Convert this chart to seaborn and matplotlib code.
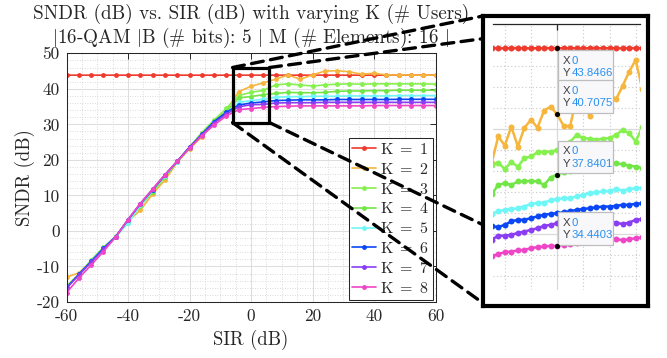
import matplotlib
matplotlib.use("Agg")
import matplotlib.pyplot as plt
import pandas as pd
import seaborn as sns
from matplotlib.patches import Rectangle, ConnectionPatch
from matplotlib.lines import Line2D
from matplotlib.ticker import MultipleLocator, FuncFormatter

# ---------------- data ----------------
sir_db = [-60, -56, -52, -48, -44, -40, -36, -32, -28, -24, -20, -16, -12, -8, -4,
          0, 4, 8, 12, 16, 20, 24, 28, 32, 36, 40, 44, 48, 52, 56, 60]
users = [1, 2, 3, 4, 5, 6, 7, 8]

sndr_k1 = [43.85, 43.85, 43.84, 43.85, 43.85, 43.85, 43.84, 43.85, 43.85, 43.85, 43.85,
           43.84, 43.85, 43.85, 43.85, 43.8466, 43.85, 43.85, 43.85, 43.84, 43.85, 43.85,
           43.85, 43.85, 43.84, 43.85, 43.85, 43.85, 43.85, 43.85, 43.85]
sndr_k2 = [-13.0, -11.8, -8.6, -5.0, -1.6, 2.8, 5.8, 10.4, 14.3, 19.3, 23.1, 26.5, 30.3,
           34.0, 39.22, 40.7075, 41.7, 42.7, 43.9, 42.7, 43.9, 45.0, 45.1, 44.8, 44.1,
           44.4, 43.9, 43.9, 43.9, 43.8, 43.9]
sndr_k3 = [-15.5, -12.2, -8.2, -4.6, -1.6, 2.3, 7.3, 11.2, 15.3, 19.6, 23.6, 27.7, 31.2,
           34.5, 38.10, 39.01, 39.57, 41.1, 41.4, 41.1, 40.8, 41.1, 41.3, 41.4, 41.3,
           41.4, 41.4, 41.4, 41.4, 41.4, 41.3]
sndr_k4 = [-15.7, -12.4, -8.4, -4.8, -1.5, 2.6, 7.0, 11.0, 15.2, 19.4, 23.4, 27.4, 30.9,
           33.6, 37.43, 37.8401, 38.35, 38.7, 39.0, 38.9, 38.9, 39.0, 39.3, 39.4, 39.4,
           39.5, 39.5, 39.6, 39.6, 39.6, 39.6]
sndr_k5 = [-16.0, -12.4, -8.5, -4.9, -1.6, 2.3, 7.2, 11.4, 15.5, 19.5, 23.5, 27.1, 30.6,
           33.3, 36.16, 36.67, 37.07, 37.6, 37.8, 37.8, 37.9, 37.9, 37.9, 38.0, 38.0,
           38.0, 38.0, 38.1, 38.1, 38.1, 38.1]
sndr_k6 = [-16.0, -12.2, -8.6, -4.9, -1.6, 3.1, 7.6, 11.6, 15.7, 19.6, 23.6, 27.2, 30.8,
           33.4, 35.45, 36.0, 36.32, 36.7, 36.8, 36.9, 36.9, 36.9, 37.0, 37.0, 37.0,
           37.0, 37.0, 37.05, 37.05, 37.05, 37.05]
sndr_k7 = [-16.1, -12.4, -8.8, -5.2, -1.6, 3.2, 7.7, 11.7, 15.8, 19.6, 23.5, 27.0, 30.4,
           32.9, 34.93, 35.53, 35.61, 36.0, 36.1, 36.1, 36.1, 36.2, 36.2, 36.2, 36.2,
           36.2, 36.2, 36.2, 36.2, 36.2, 36.2]
sndr_k8 = [-17.4, -13.3, -9.6, -5.8, -1.7, 3.2, 7.7, 11.8, 15.8, 19.6, 23.3, 26.8, 29.8,
           32.4, 34.14, 34.4403, 34.77, 35.0, 35.1, 35.2, 35.2, 35.2, 35.2, 35.2, 35.2,
           35.3, 35.3, 35.3, 35.3, 35.3, 35.3]

# finely sampled sweep around SIR = 0 dB (magnified view)
zoom_sir_db = [-5.0, -4.5, -4.0, -3.5, -3.0, -2.5, -2.0, -1.5, -1.0, -0.5, 0.0, 0.5,
               1.0, 1.5, 2.0, 2.5, 3.0, 3.5, 4.0, 4.5, 5.0, 5.5, 6.0, 6.5]
zoom_k1 = [43.85, 43.85, 43.84, 43.85, 43.85, 43.85, 43.84, 43.85, 43.85, 43.85, 43.8466,
           43.85, 43.85, 43.85, 43.84, 43.85, 43.85, 43.85, 43.85, 43.85, 43.84, 43.85,
           43.85, 43.85]
zoom_k2 = [38.4, 39.65, 39.22, 40.12, 39.17, 40.07, 40.44, 40.07, 40.88, 41.07, 40.7075,
           40.15, 40.15, 41.6, 41.2, 40.63, 41.5, 41.1, 41.7, 41.42, 42.05, 42.73, 43.29,
           41.9]
zoom_k3 = [38.3, 38.41, 38.10, 38.43, 38.22, 38.62, 38.70, 38.90, 38.93, 38.93, 39.01,
           39.2, 39.4, 39.73, 39.57, 39.55, 39.5, 39.55, 39.57, 39.73, 39.96, 39.81, 39.41,
           40.1]
zoom_k4 = [36.9, 37.35, 37.43, 37.35, 37.51, 37.51, 37.54, 37.51, 37.35, 37.7, 37.8401,
           37.95, 38.0, 38.1, 38.15, 38.2, 38.25, 38.3, 38.35, 38.38, 38.33, 38.27, 38.22,
           38.17]
zoom_k5 = [35.98, 36.09, 36.16, 36.20, 36.24, 36.32, 36.45, 36.48, 36.51, 36.61, 36.67,
           36.72, 36.72, 36.80, 36.88, 36.96, 36.99, 37.04, 37.07, 37.15, 37.08, 37.15,
           37.19, 37.2]
zoom_k6 = [35.38, 35.34, 35.45, 35.61, 35.69, 35.69, 35.77, 35.85, 35.93, 35.97, 36.0,
           36.05, 36.1, 36.16, 36.2, 36.24, 36.28, 36.32, 36.32, 36.35, 36.40, 36.40,
           36.45, 36.47]
zoom_k7 = [34.75, 34.93, 34.93, 34.98, 35.06, 35.13, 35.21, 35.29, 35.40, 35.45, 35.53,
           35.55, 35.57, 35.6, 35.6, 35.58, 35.6, 35.62, 35.61, 35.56, 35.48, 35.56, 35.69,
           35.72]
zoom_k8 = [33.95, 34.07, 34.14, 34.18, 34.23, 34.26, 34.34, 34.39, 34.42, 34.45, 34.4403,
           34.50, 34.55, 34.58, 34.62, 34.66, 34.70, 34.74, 34.77, 34.77, 34.72, 34.76,
           34.82, 34.85]

# data tips shown at SIR = 0 dB: (user count, tip box above the point?)
tip_users = [1, 2, 4, 8]
tip_above = [False, True, True, True]

colors = ["#ef3b2d", "#f6b53c", "#86f04f", "#71e646",
          "#6ff6f6", "#0b47f5", "#8b3df4", "#ee46c6"]

main_series = [sndr_k1, sndr_k2, sndr_k3, sndr_k4, sndr_k5, sndr_k6, sndr_k7, sndr_k8]
zoom_series = [zoom_k1, zoom_k2, zoom_k3, zoom_k4, zoom_k5, zoom_k6, zoom_k7, zoom_k8]


def long_table(xs, series):
    rows = []
    for k, ys in zip(users, series):
        for x, y in zip(xs, ys):
            rows.append({"SIR": x, "SNDR": y, "K": f"K = {k}"})
    return pd.DataFrame(rows)


df_main = long_table(sir_db, main_series)
df_zoom = long_table(zoom_sir_db, zoom_series)

# ---------------- style ----------------
sns.set_theme(style="white")
plt.rcParams.update({
    "mathtext.fontset": "cm",
    "axes.unicode_minus": False,
    "axes.edgecolor": "#262626",
    "axes.linewidth": 0.75,
    "xtick.color": "#262626",
    "ytick.color": "#262626",
    "text.color": "#262626",
    "axes.labelcolor": "#262626",
})
plt.rcParams["font.family"] = ["cmr10", "DejaVu Serif"]

W, H = 667, 358
fig = plt.figure(figsize=(W / 100, H / 100), dpi=100)
ax = fig.add_axes([66.5 / W, 1 - 302 / H, 369 / W, 248.7 / H])

sns.lineplot(data=df_main, x="SIR", y="SNDR", hue="K", palette=colors,
             marker="o", markersize=3.5, markeredgewidth=0, linewidth=1.2,
             estimator=None, errorbar=None, sort=False, legend=False, ax=ax)

ax.set_xlim(-60, 60)
ax.set_ylim(-20, 50)
ax.xaxis.set_major_locator(MultipleLocator(20))
ax.yaxis.set_major_locator(MultipleLocator(10))
ax.xaxis.set_minor_locator(MultipleLocator(5))
ax.yaxis.set_minor_locator(MultipleLocator(2))
fmt = FuncFormatter(lambda v, p: f"{v:g}")
ax.xaxis.set_major_formatter(fmt)
ax.yaxis.set_major_formatter(fmt)
ax.grid(which="major", color="#dedede", lw=0.75, ls="-")
ax.grid(which="minor", color="#cfcfcf", lw=0.6, ls=(0, (1, 2)))
ax.set_axisbelow(True)
ax.tick_params(which="major", direction="in", length=4, width=0.7, top=True, right=True,
               labelsize=12.5, pad=5)
ax.tick_params(which="minor", length=0)
ax.set_xlabel("SIR (dB)", fontsize=13.5, labelpad=4)
ax.set_ylabel("SNDR (dB)", fontsize=13.5, labelpad=1)

handles = [Line2D([], [], color=c, lw=1.2, marker="o", ms=3.5, mew=0) for c in colors]
leg = ax.legend(handles, [rf"$\mathrm{{K}}\ =\ {k}$" for k in users],
                loc="lower right", fontsize=11.5, frameon=True, fancybox=False,
                framealpha=1, edgecolor="#262626", borderpad=0.25, labelspacing=0.3,
                handlelength=1.45, handletextpad=0.25, borderaxespad=0.15)
leg.get_frame().set_linewidth(0.75)

# title (two lines)
cx = (66.5 + 435.5) / 2 / W
fig.text(cx, 1 - 4 / H, "SNDR (dB) vs. SIR (dB) with varying K (# Users)",
         ha="center", va="top", fontsize=13.8)
fig.text(cx, 1 - 26 / H,
         "$|$16-QAM $|$B (# bits): 5 $|$ M (# Elements): 16 $|$",
         ha="center", va="top", fontsize=13.8)

# zoom window on the main axes
zx0, zx1, zy0, zy1 = -6, 6, 30.5, 46
ax.add_patch(Rectangle((zx0, zy0), zx1 - zx0, zy1 - zy0, fill=False, ec="black",
                       lw=2.3, zorder=6, clip_on=False))

# ---------------- magnified panel ----------------
frame = fig.add_axes([483 / W, 1 - 306 / H, 165 / W, 290 / H])
frame.set_xticks([])
frame.set_yticks([])
frame.set_facecolor("white")
for s in frame.spines.values():
    s.set_linewidth(3.0)
    s.set_edgecolor("black")

axin = fig.add_axes([493 / W, 1 - 290 / H, 147 / W, 266 / H])
axin.patch.set_alpha(0)
sns.lineplot(data=df_zoom, x="SIR", y="SNDR", hue="K", palette=colors,
             marker="o", markersize=4.3, markeredgewidth=0, linewidth=1.8,
             estimator=None, errorbar=None, sort=False, legend=False, ax=axin)
axin.set_xlim(-4.9, 6.33)
axin.set_ylim(32.35, 45)
axin.set_xlabel("")
axin.set_ylabel("")
axin.set_xticks([0])
axin.set_yticks([35, 40])
axin.xaxis.set_minor_locator(MultipleLocator(2))
axin.yaxis.set_minor_locator(MultipleLocator(1))
axin.grid(which="major", color="#d9d9d9", lw=0.9, ls="-")
axin.grid(which="minor", color="#c8c8c8", lw=0.8, ls=(0, (1, 2.2)))
axin.set_axisbelow(True)
axin.tick_params(which="both", labelleft=False, labelbottom=False, left=False,
                 bottom=False, top=True, direction="in", length=4, width=0.9,
                 color="#262626")
axin.tick_params(which="minor", top=False)
for side in ["left", "right", "bottom"]:
    axin.spines[side].set_visible(False)
axin.spines["top"].set_linewidth(0.9)

# data tips
box_w, box_h = 4.18, 1.55
for k, above in zip(tip_users, tip_above):
    yv = zoom_series[k - 1][zoom_sir_db.index(0.0)]
    xv = 0.0
    x0 = xv + 0.08
    y0 = yv + 0.06 if above else yv - 0.1 - box_h
    axin.add_patch(Rectangle((x0, y0), box_w, box_h, fc="#f8f8fb", ec="#bdbdbd",
                             lw=0.9, zorder=8))
    tkw = dict(fontsize=8.2, family="Liberation Sans", va="center", ha="left", zorder=9)
    axin.text(x0 + 0.38, y0 + box_h * 0.68, "X", color="#404040", **tkw)
    axin.text(x0 + 1.02, y0 + box_h * 0.68, f"{xv:g}", color="#2a8ff0", **tkw)
    axin.text(x0 + 0.38, y0 + box_h * 0.3, "Y", color="#404040", **tkw)
    axin.text(x0 + 1.02, y0 + box_h * 0.3, f"{yv:.4f}", color="#2a8ff0", **tkw)
    axin.plot([xv], [yv], "o", ms=2.6, color="black", zorder=10)

# dashed connectors from the zoom window to the magnified panel
dash = dict(color="black", lw=2.4, ls=(0, (3.6, 2.2)), zorder=20)
for (xa, ya), (xb, yb) in [((zx0, zy1), (0, 1.0)), ((zx1, zy1), (0, 0.922)),
                           ((zx0, zy0), (0, 0.01)), ((zx1, zy0), (0, 0.28))]:
    cp = ConnectionPatch(xyA=(xa, ya), coordsA=ax.transData, xyB=(xb, yb),
                         coordsB=frame.transAxes, **dash)
    fig.add_artist(cp)

fig.savefig("out.png", dpi=100)
